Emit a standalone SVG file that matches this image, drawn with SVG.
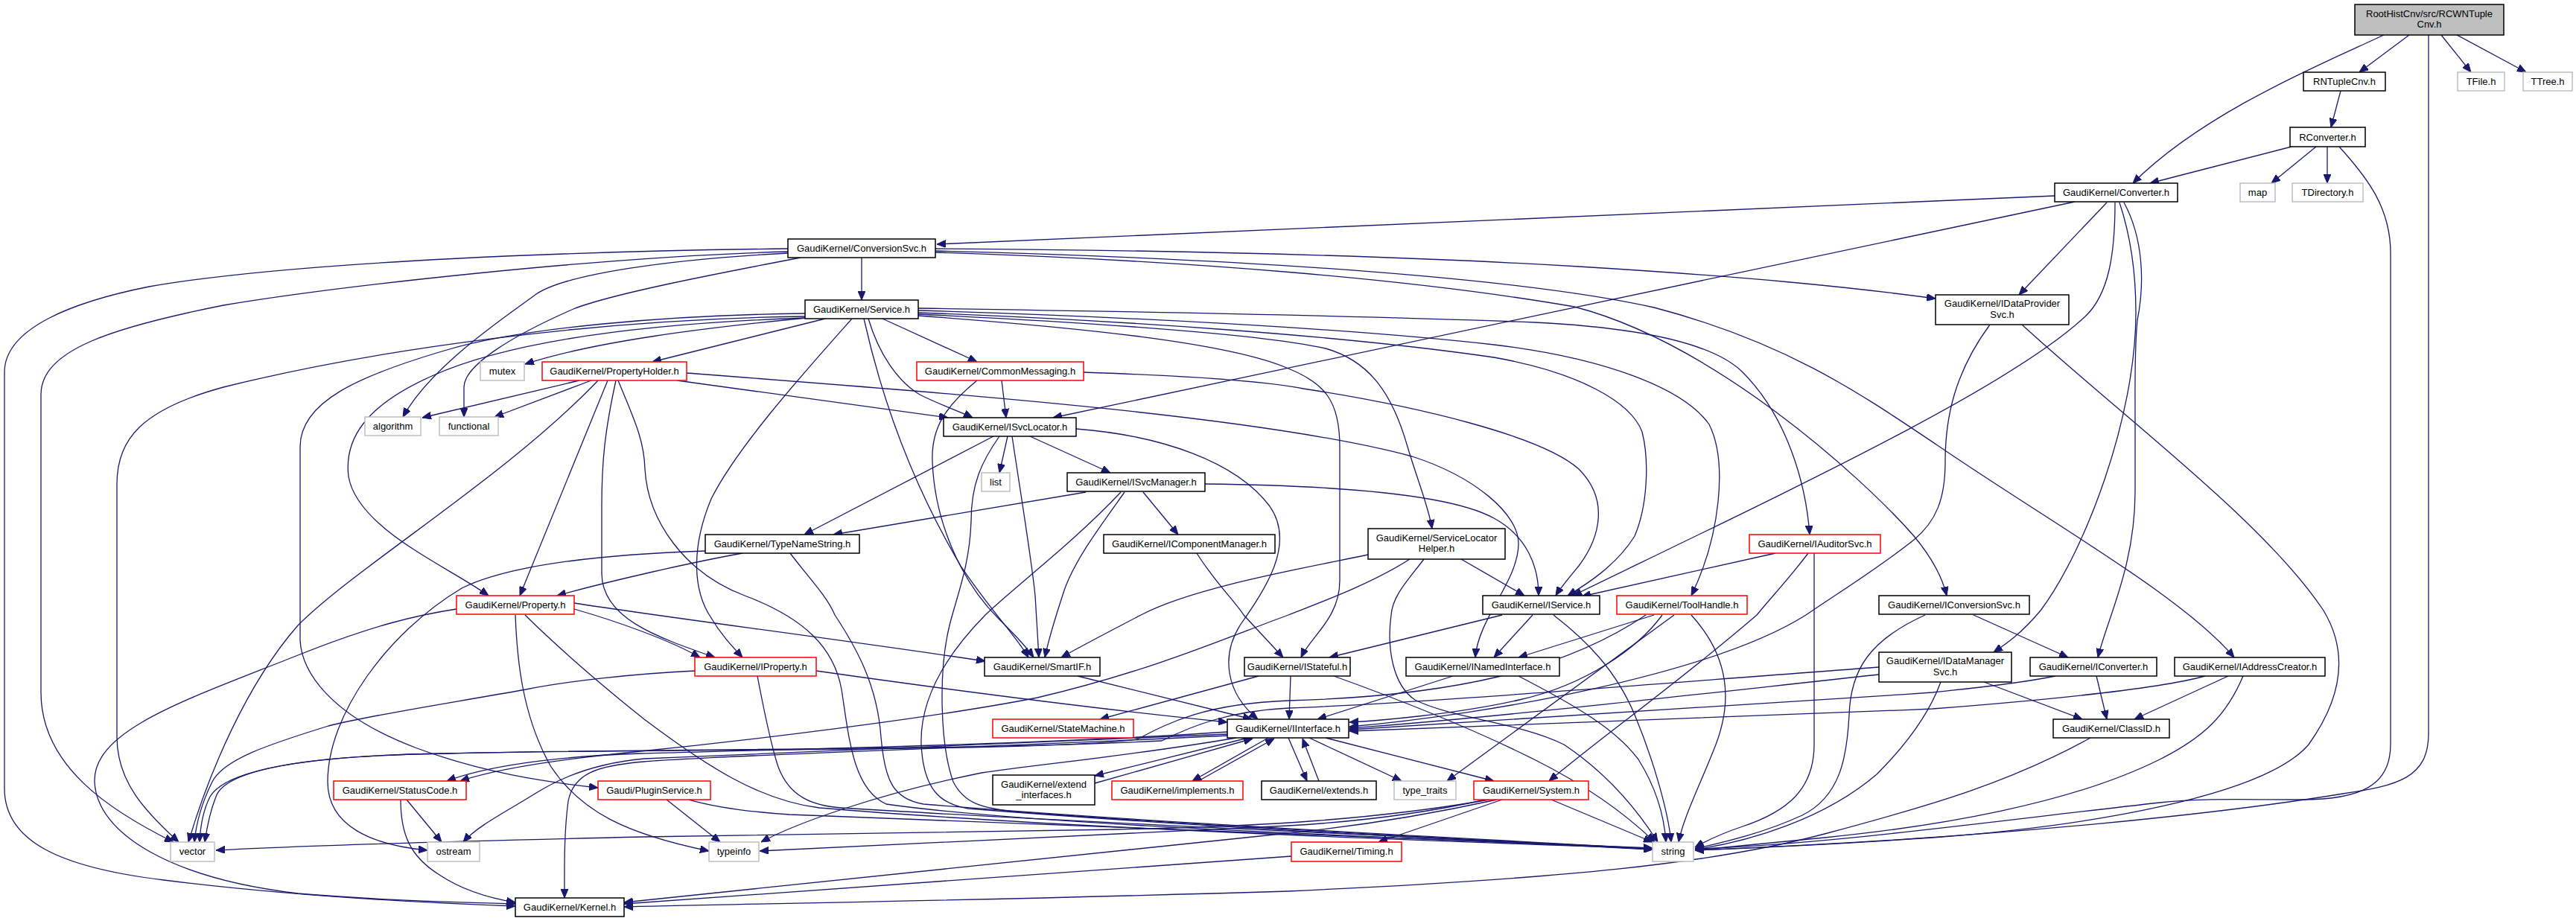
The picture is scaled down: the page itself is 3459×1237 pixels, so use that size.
<svg xmlns="http://www.w3.org/2000/svg" width="3459" height="1237" viewBox="0 0 3459 1237">
<defs>
<marker id="ah" viewBox="0 0 12 10" refX="12" refY="5" markerWidth="12" markerHeight="10" markerUnits="userSpaceOnUse" orient="auto"><path d="M0,0L12,5L0,10z" fill="#191970" stroke="#191970" stroke-width="1"/></marker>
<style>
.e{fill:none;stroke:#191970;stroke-width:1.3;marker-end:url(#ah)}
.n rect{fill:#fff;stroke:#000;stroke-width:1.5}
.r rect{stroke:#ff0000}
.g rect{stroke:#bfbfbf}
.root rect{fill:#bfbfbf}
text{font-family:"Liberation Sans",Arial,sans-serif;font-size:13px;text-anchor:middle;fill:#000}
</style>
</defs>
<rect width="3459" height="1237" fill="#fff"/>
<g id="edges">
<path class="e" d="M3235,47 L3168,97"/>
<path class="e" d="M3201,47 C3120,85 2960,150 2864,246"/>
<path class="e" d="M3278,47 L3318,97"/>
<path class="e" d="M3299,47 L3392,97"/>
<path class="e" d="M3261,47 L3261,985 C3261,1045 3220,1055 3146,1066 C3000,1090 2700,1125 2276,1142"/>
<path class="e" d="M3143,122 L3130,171"/>
<path class="e" d="M3077,197 L2887,246"/>
<path class="e" d="M3110,197 L3050,246"/>
<path class="e" d="M3125,197 L3125,246"/>
<path class="e" d="M3141,197 C3180,240 3210,280 3210,340 L3210,1000 C3210,1055 3170,1074 3090,1074 C3000,1074 2950,1072 2900,1078 C2700,1100 2450,1135 2276,1140"/>
<path class="e" d="M2759,263 L1258,328"/>
<path class="e" d="M2786,271 L1414,561"/>
<path class="e" d="M2829,272 L2711,396"/>
<path class="e" d="M2840,272 C2840,340 2832,395 2800,425 C2700,520 2400,660 2112,800"/>
<path class="e" d="M2846,272 C2862,320 2868,370 2868,420 C2868,560 2800,740 2740,820 C2715,850 2695,864 2677,876"/>
<path class="e" d="M2852,272 C2878,320 2880,380 2870,430 C2866,470 2867,520 2867,560 L2867,660 C2867,760 2830,830 2817,883"/>
<path class="e" d="M1157,346 L1157,403"/>
<path class="e" d="M1256,334 C1600,336 1900,345 2120,358 C2350,372 2480,385 2599,401"/>
<path class="e" d="M1256,337 C1700,348 2050,375 2221,413 C2400,460 2500,530 2600,597 C2750,700 2930,800 3000,883"/>
<path class="e" d="M1256,339 C1600,350 1900,375 2114,412 C2300,460 2500,640 2570,720 C2595,750 2608,775 2614,800"/>
<path class="e" d="M1058,334 C800,337 400,350 200,385 C100,405 6,440 6,500 L6,1059 C6,1130 80,1165 220,1182 C380,1202 550,1212 692,1217"/>
<path class="e" d="M1058,338 C800,345 450,385 300,410 C150,440 55,470 55,530 L55,930 C55,1030 150,1090 233,1131"/>
<path class="e" d="M1058,340 C900,348 760,368 720,395 C680,425 580,490 541,560"/>
<path class="e" d="M1075,346 C960,368 820,395 770,415 C690,450 623,490 623,520 L623,560"/>
<path class="e" d="M1108,428 L876,486"/>
<path class="e" d="M1083,427 C950,440 800,458 705,489"/>
<path class="e" d="M1081,421 C900,423 700,440 600,470 C480,505 403,540 403,600 L403,860 C405,900 440,960 560,1005 C650,1038 730,1050 803,1058"/>
<path class="e" d="M1081,425 C800,428 500,470 300,520 C190,550 157,590 157,650 L157,990 C157,1050 195,1090 240,1131"/>
<path class="e" d="M1081,427 C850,435 680,460 580,505 C490,545 462,590 468,640 C480,710 600,760 656,800"/>
<path class="e" d="M1144,428 C1080,500 990,600 955,670 C930,730 928,790 955,830 C970,855 985,870 997,883"/>
<path class="e" d="M1160,428 C1185,540 1225,650 1290,760 C1330,820 1365,855 1381,883"/>
<path class="e" d="M1166,428 C1180,475 1205,512 1235,530 C1265,545 1290,553 1306,561"/>
<path class="e" d="M1185,428 L1312,486"/>
<path class="e" d="M1233,414 C1500,418 1850,425 2061,433 C2200,440 2300,460 2340,500 C2400,560 2425,650 2430,718"/>
<path class="e" d="M1233,417 C1500,425 1800,440 2006,463 C2150,480 2260,520 2295,570 C2320,620 2310,720 2271,800"/>
<path class="e" d="M1233,420 C1500,430 1800,450 2006,480 C2120,500 2190,540 2205,580 C2215,620 2212,680 2195,720 C2170,760 2130,785 2105,800"/>
<path class="e" d="M1233,422 C1500,435 1700,450 1780,468 C1840,485 1870,530 1890,600 C1905,650 1918,680 1923,710"/>
<path class="e" d="M1233,424 C1450,440 1650,460 1730,495 C1780,515 1799,540 1799,600 L1799,780 C1799,830 1760,855 1747,883"/>
<path class="e" d="M778,511 L567,561"/>
<path class="e" d="M794,511 L664,560"/>
<path class="e" d="M803,511 C680,640 480,760 400,840 C330,920 280,1040 253,1131"/>
<path class="e" d="M816,511 L698,800"/>
<path class="e" d="M827,511 C812,580 808,620 808,680 L808,770 C808,830 880,855 960,883"/>
<path class="e" d="M909,511 L1273,561"/>
<path class="e" d="M922,501 C1300,530 1700,560 1896,613 C1980,640 2039,690 2039,730 C2039,780 1985,830 1981,883"/>
<path class="e" d="M830,511 C850,560 865,590 866,630 C870,700 920,770 1000,800 C1080,830 1120,870 1130,926 C1140,990 1145,1060 1190,1080 C1400,1110 1900,1125 2219,1140"/>
<path class="e" d="M1345,511 L1351,561"/>
<path class="e" d="M1312,511 C1270,545 1250,575 1252,620 C1255,700 1290,780 1340,830 C1360,850 1375,865 1388,883"/>
<path class="e" d="M1455,500 C1600,505 1700,512 1750,522 C1900,545 2070,585 2120,630 C2160,670 2150,720 2120,760 C2105,778 2095,790 2089,800"/>
<path class="e" d="M1334,586 L1080,718"/>
<path class="e" d="M1353,586 L1342,635"/>
<path class="e" d="M1383,586 L1491,635"/>
<path class="e" d="M1359,586 C1370,660 1385,750 1390,800 L1395,883"/>
<path class="e" d="M1342,586 C1318,620 1304,650 1304,700 C1302,760 1285,800 1275,840 C1260,900 1262,1000 1280,1050 C1295,1080 1320,1085 1360,1090 C1650,1112 1950,1125 2219,1141"/>
<path class="e" d="M1445,576 C1560,585 1660,620 1705,680 C1740,730 1700,790 1665,840 C1640,880 1645,930 1689,966"/>
<path class="e" d="M1458,661 L1119,718"/>
<path class="e" d="M1535,661 L1582,718"/>
<path class="e" d="M1618,650 C1800,652 1950,665 2006,696 C2050,720 2066,760 2066,800"/>
<path class="e" d="M1510,661 C1475,710 1445,750 1430,790 C1420,820 1410,850 1403,883"/>
<path class="e" d="M1505,661 C1440,730 1360,790 1323,826 C1270,880 1235,940 1237,1000 C1240,1060 1262,1080 1300,1086 C1600,1110 1900,1125 2219,1141"/>
<path class="e" d="M997,743 C930,755 820,780 748,800"/>
<path class="e" d="M947,740 C800,745 680,760 620,790 C520,850 440,960 440,1050 C440,1110 500,1135 574,1142"/>
<path class="e" d="M1061,743 C1085,775 1110,800 1121,826 C1150,870 1178,920 1183,990 C1188,1050 1200,1073 1240,1080 C1550,1105 1900,1122 2219,1140"/>
<path class="e" d="M1607,743 C1630,780 1660,810 1670,826 L1723,883"/>
<path class="e" d="M1837,745 C1740,765 1600,790 1532,826 C1490,848 1455,866 1425,883"/>
<path class="e" d="M1962,751 L2047,800"/>
<path class="e" d="M1893,751 C1840,785 1770,810 1730,826 C1650,855 1550,900 1393,937 C1250,965 1000,995 851,1010 C730,1022 660,1035 618,1049"/>
<path class="e" d="M1912,751 C1890,780 1870,800 1868,826 C1862,870 1870,920 1900,940 C1950,965 2040,970 2100,1000 C2160,1040 2200,1090 2226,1131"/>
<path class="e" d="M2384,743 L2124,801"/>
<path class="e" d="M2428,743 C2400,780 2380,800 2359,826 C2250,920 2150,990 2080,1049"/>
<path class="e" d="M2436,743 L2436,1000 C2436,1060 2400,1090 2340,1110 C2310,1120 2290,1130 2276,1138"/>
<path class="e" d="M2221,826 L2039,883"/>
<path class="e" d="M2232,826 C2200,870 2130,920 2040,940 C1950,960 1850,968 1812,970"/>
<path class="e" d="M2248,826 L1943,1049"/>
<path class="e" d="M2271,826 C2320,880 2330,940 2300,1010 C2280,1060 2260,1100 2254,1131"/>
<path class="e" d="M2210,826 C2100,900 1950,935 1730,941 C1620,945 1570,970 1527,993 C1400,1010 900,1005 600,1012 C380,1015 300,1040 282,1070 C272,1090 269,1110 268,1131"/>
<path class="e" d="M2650,826 L2777,883"/>
<path class="e" d="M2585,826 C2510,860 2485,900 2483,960 C2480,1020 2470,1070 2420,1095 C2370,1118 2320,1130 2276,1140"/>
<path class="e" d="M2672,436 C2625,500 2612,560 2612,620 C2612,670 2600,700 2570,725 C2520,765 2470,795 2425,826 C2300,905 2000,960 1812,976"/>
<path class="e" d="M2715,436 C2850,560 3040,700 3120,820 C3150,870 3150,930 3100,1000 C3040,1070 2800,1110 2595,1125 C2480,1133 2380,1138 2276,1142"/>
<path class="e" d="M2523,906 C2300,930 2000,965 1812,978"/>
<path class="e" d="M2523,896 C2200,920 1900,945 1730,951 C1650,955 1600,975 1560,995 C1300,1008 900,1005 600,1012 C380,1015 300,1040 290,1070 C282,1090 278,1110 275,1131"/>
<path class="e" d="M2664,916 L2796,966"/>
<path class="e" d="M2606,916 C2590,960 2560,1000 2520,1040 C2450,1100 2350,1130 2276,1141"/>
<path class="e" d="M2815,908 L2829,966"/>
<path class="e" d="M2760,908 C2700,920 2640,925 2595,930 C2300,950 2000,970 1812,980"/>
<path class="e" d="M2992,908 L2866,966"/>
<path class="e" d="M2961,908 C2900,925 2750,940 2595,952 C2300,965 2000,975 1812,982"/>
<path class="e" d="M3012,908 C2990,960 2960,990 2900,1020 C2780,1080 2600,1110 2450,1125 C2380,1132 2320,1138 2276,1142"/>
<path class="e" d="M2807,991 C2700,1050 2600,1080 2450,1120 C2300,1160 2100,1180 1730,1197 C1300,1210 1000,1214 838,1218"/>
<path class="e" d="M1676,991 L1470,1042"/>
<path class="e" d="M1470,1052 L1682,992"/>
<path class="e" d="M1703,991 L1601,1049"/>
<path class="e" d="M1609,1049 L1711,992"/>
<path class="e" d="M1730,991 L1755,1049"/>
<path class="e" d="M1771,1049 L1749,992"/>
<path class="e" d="M1758,991 L1882,1049"/>
<path class="e" d="M1780,991 L2006,1049"/>
<path class="e" d="M1660,991 C1520,1015 1400,1026 1318,1038 C1180,1066 1070,1105 1022,1131"/>
<path class="e" d="M1648,983 C1400,1000 1000,1008 860,1012 C740,1016 650,1030 600,1049"/>
<path class="e" d="M1648,986 C1300,1003 1000,1012 865,1019 C810,1024 760,1040 720,1065 C680,1090 640,1110 622,1131"/>
<path class="e" d="M1648,988 C1300,1005 950,1015 865,1023 C800,1028 770,1040 763,1076 C757,1120 758,1170 758,1206"/>
<path class="e" d="M2083,1074 L2219,1131"/>
<path class="e" d="M2017,1074 L1851,1131"/>
<path class="e" d="M2010,1074 C1900,1098 1800,1112 1730,1119 L838,1212"/>
<path class="e" d="M2000,1074 C1850,1100 1700,1110 1500,1114 L865,1124 C600,1130 400,1136 290,1142"/>
<path class="e" d="M1995,1074 C1900,1095 1800,1105 1730,1109 L1020,1143"/>
<path class="e" d="M1734,1150 L838,1214"/>
<path class="e" d="M546,1074 L593,1131"/>
<path class="e" d="M538,1074 C538,1120 550,1150 590,1175 C620,1195 655,1206 692,1212"/>
<path class="e" d="M895,1074 L967,1131"/>
<path class="e" d="M925,1074 C960,1084 1000,1090 1060,1094 C1400,1110 1800,1120 2219,1139"/>
<path class="e" d="M771,818 C830,835 900,860 940,883"/>
<path class="e" d="M771,810 C900,830 1100,855 1323,888"/>
<path class="e" d="M613,818 C560,826 500,840 400,880 C250,940 125,980 127,1050 C130,1120 230,1180 400,1200 C520,1210 620,1212 692,1214"/>
<path class="e" d="M692,826 C694,880 700,960 740,1030 C780,1090 840,1120 952,1143"/>
<path class="e" d="M705,826 C760,880 820,930 865,966 C950,1030 1020,1075 1100,1085 C1400,1110 1800,1125 2219,1140"/>
<path class="e" d="M933,901 C850,905 760,915 706,926 C600,945 500,960 441,975 C360,1000 300,1020 285,1050 C270,1080 263,1110 261,1131"/>
<path class="e" d="M1096,901 C1300,930 1500,955 1648,970"/>
<path class="e" d="M1017,908 C1025,950 1035,1000 1045,1030 C1060,1070 1090,1082 1130,1085 C1500,1108 1900,1123 2219,1140"/>
<path class="e" d="M1447,908 L1681,966"/>
<path class="e" d="M1733,908 L1731,966"/>
<path class="e" d="M1690,908 L1477,966"/>
<path class="e" d="M1791,908 C1880,940 1980,980 2060,1020 C2140,1060 2190,1100 2222,1131"/>
<path class="e" d="M1951,908 L1769,966"/>
<path class="e" d="M2039,908 C2120,950 2170,980 2200,1020 C2225,1060 2235,1100 2237,1131"/>
<path class="e" d="M2017,826 L1785,883"/>
<path class="e" d="M2058,826 L2006,883"/>
<path class="e" d="M2086,826 C2130,860 2170,900 2195,960 C2220,1020 2240,1090 2244,1131"/>
</g>
<g id="node-root" class="n root"><rect x="3162" y="6" width="200" height="41"/><text x="3262" y="22.5">RootHistCnv/src/RCWNTuple</text><text x="3262" y="36.5">Cnv.h</text></g>
<g id="node-RNTupleCnv" class="n"><rect x="3093" y="97" width="110" height="25"/><text x="3148" y="114">RNTupleCnv.h</text></g>
<g id="node-TFile" class="n g"><rect x="3300" y="97" width="63" height="25"/><text x="3331.5" y="114">TFile.h</text></g>
<g id="node-TTree" class="n g"><rect x="3388" y="97" width="66" height="25"/><text x="3421" y="114">TTree.h</text></g>
<g id="node-RConverter" class="n"><rect x="3075" y="171" width="101" height="26"/><text x="3125.5" y="188.5">RConverter.h</text></g>
<g id="node-map" class="n g"><rect x="3008" y="246" width="47" height="25"/><text x="3031.5" y="263">map</text></g>
<g id="node-TDirectory" class="n g"><rect x="3078" y="246" width="95" height="25"/><text x="3125.5" y="263">TDirectory.h</text></g>
<g id="node-Converter" class="n"><rect x="2759" y="246" width="165" height="25"/><text x="2841.5" y="263">GaudiKernel/Converter.h</text></g>
<g id="node-ConversionSvc" class="n"><rect x="1058" y="321" width="198" height="25"/><text x="1157" y="338">GaudiKernel/ConversionSvc.h</text></g>
<g id="node-IDataProviderSvc" class="n"><rect x="2599" y="396" width="179" height="40"/><text x="2688.5" y="412">GaudiKernel/IDataProvider</text><text x="2688.5" y="426.5">Svc.h</text></g>
<g id="node-Service" class="n"><rect x="1081" y="403" width="152" height="25"/><text x="1157" y="420">GaudiKernel/Service.h</text></g>
<g id="node-mutex" class="n g"><rect x="645" y="486" width="59" height="25"/><text x="674.5" y="503">mutex</text></g>
<g id="node-PropertyHolder" class="n r"><rect x="728" y="486" width="194" height="25"/><text x="825" y="503">GaudiKernel/PropertyHolder.h</text></g>
<g id="node-CommonMessaging" class="n r"><rect x="1231" y="486" width="224" height="25"/><text x="1343" y="503">GaudiKernel/CommonMessaging.h</text></g>
<g id="node-algorithm" class="n g"><rect x="490" y="560" width="75" height="25"/><text x="527.5" y="577">algorithm</text></g>
<g id="node-functional" class="n g"><rect x="590" y="560" width="79" height="25"/><text x="629.5" y="577">functional</text></g>
<g id="node-ISvcLocator" class="n"><rect x="1267" y="561" width="178" height="25"/><text x="1356" y="578">GaudiKernel/ISvcLocator.h</text></g>
<g id="node-list" class="n g"><rect x="1318" y="635" width="38" height="25"/><text x="1337" y="652">list</text></g>
<g id="node-ISvcManager" class="n"><rect x="1433" y="635" width="185" height="25"/><text x="1525.5" y="652">GaudiKernel/ISvcManager.h</text></g>
<g id="node-TypeNameString" class="n"><rect x="947" y="718" width="207" height="25"/><text x="1050.5" y="735">GaudiKernel/TypeNameString.h</text></g>
<g id="node-IComponentManager" class="n"><rect x="1482" y="718" width="230" height="25"/><text x="1597" y="735">GaudiKernel/IComponentManager.h</text></g>
<g id="node-ServiceLocatorHelper" class="n"><rect x="1837" y="710" width="184" height="41"/><text x="1929" y="726.5">GaudiKernel/ServiceLocator</text><text x="1929" y="740.5">Helper.h</text></g>
<g id="node-IAuditorSvc" class="n r"><rect x="2349" y="718" width="176" height="25"/><text x="2437" y="735">GaudiKernel/IAuditorSvc.h</text></g>
<g id="node-Property" class="n r"><rect x="613" y="800" width="158" height="25"/><text x="692" y="817">GaudiKernel/Property.h</text></g>
<g id="node-IService" class="n"><rect x="1991" y="800" width="157" height="25"/><text x="2069.5" y="817">GaudiKernel/IService.h</text></g>
<g id="node-ToolHandle" class="n r"><rect x="2171" y="800" width="175" height="25"/><text x="2258.5" y="817">GaudiKernel/ToolHandle.h</text></g>
<g id="node-IConversionSvc" class="n"><rect x="2523" y="800" width="202" height="25"/><text x="2624" y="817">GaudiKernel/IConversionSvc.h</text></g>
<g id="node-IProperty" class="n r"><rect x="933" y="883" width="163" height="25"/><text x="1014.5" y="900">GaudiKernel/IProperty.h</text></g>
<g id="node-SmartIF" class="n"><rect x="1322" y="883" width="155" height="25"/><text x="1399.5" y="900">GaudiKernel/SmartIF.h</text></g>
<g id="node-IStateful" class="n"><rect x="1671" y="883" width="142" height="25"/><text x="1742" y="900">GaudiKernel/IStateful.h</text></g>
<g id="node-INamedInterface" class="n"><rect x="1888" y="883" width="206" height="25"/><text x="1991" y="900">GaudiKernel/INamedInterface.h</text></g>
<g id="node-IDataManagerSvc" class="n"><rect x="2523" y="876" width="178" height="40"/><text x="2612" y="892">GaudiKernel/IDataManager</text><text x="2612" y="906.5">Svc.h</text></g>
<g id="node-IConverter" class="n"><rect x="2726" y="883" width="170" height="25"/><text x="2811" y="900">GaudiKernel/IConverter.h</text></g>
<g id="node-IAddressCreator" class="n"><rect x="2920" y="883" width="202" height="25"/><text x="3021" y="900">GaudiKernel/IAddressCreator.h</text></g>
<g id="node-StateMachine" class="n r"><rect x="1333" y="966" width="189" height="25"/><text x="1427.5" y="983">GaudiKernel/StateMachine.h</text></g>
<g id="node-IInterface" class="n"><rect x="1648" y="966" width="163" height="25"/><text x="1729.5" y="983">GaudiKernel/IInterface.h</text></g>
<g id="node-ClassID" class="n"><rect x="2757" y="966" width="156" height="25"/><text x="2835" y="983">GaudiKernel/ClassID.h</text></g>
<g id="node-StatusCode" class="n r"><rect x="448" y="1049" width="178" height="25"/><text x="537" y="1066">GaudiKernel/StatusCode.h</text></g>
<g id="node-PluginService" class="n r"><rect x="803" y="1049" width="151" height="25"/><text x="878.5" y="1066">Gaudi/PluginService.h</text></g>
<g id="node-extend_interfaces" class="n"><rect x="1333" y="1041" width="137" height="40"/><text x="1401.5" y="1057.5">GaudiKernel/extend</text><text x="1401.5" y="1071.5">_interfaces.h</text></g>
<g id="node-implements" class="n r"><rect x="1493" y="1049" width="176" height="25"/><text x="1581" y="1066">GaudiKernel/implements.h</text></g>
<g id="node-extends" class="n"><rect x="1694" y="1049" width="154" height="25"/><text x="1771" y="1066">GaudiKernel/extends.h</text></g>
<g id="node-type_traits" class="n g"><rect x="1872" y="1049" width="83" height="25"/><text x="1913.5" y="1066">type_traits</text></g>
<g id="node-System" class="n r"><rect x="1979" y="1049" width="154" height="25"/><text x="2056" y="1066">GaudiKernel/System.h</text></g>
<g id="node-vector" class="n g"><rect x="229" y="1131" width="59" height="26"/><text x="258.5" y="1148">vector</text></g>
<g id="node-ostream" class="n g"><rect x="574" y="1131" width="70" height="26"/><text x="609" y="1148">ostream</text></g>
<g id="node-typeinfo" class="n g"><rect x="952" y="1131" width="67" height="26"/><text x="985.5" y="1148">typeinfo</text></g>
<g id="node-Timing" class="n r"><rect x="1734" y="1131" width="148" height="26"/><text x="1808" y="1148">GaudiKernel/Timing.h</text></g>
<g id="node-string" class="n g"><rect x="2219" y="1131" width="55" height="26"/><text x="2246.5" y="1148">string</text></g>
<g id="node-Kernel" class="n"><rect x="692" y="1206" width="146" height="25"/><text x="765" y="1223">GaudiKernel/Kernel.h</text></g>
</svg>
